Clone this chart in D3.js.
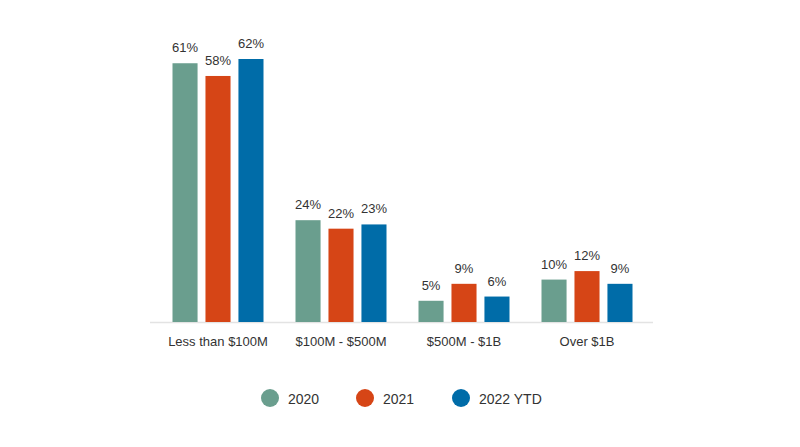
<!DOCTYPE html>
<html lang="en">
<head>
<meta charset="utf-8">
<title>Share by size</title>
<script src="https://d3js.org/d3.v7.min.js"></script>
<style>
  body { margin: 0; background: #fff; }
  svg { display: block; font-family: "Liberation Sans", Arial, sans-serif; }
</style>
</head>
<body>
<script>
// data
var categories = ["Less than $100M", "$100M - $500M", "$500M - $1B", "Over $1B"];
var seriesNames = ["2020", "2021", "2022 YTD"];
var values2020 = [61, 24, 5, 10];
var values2021 = [58, 22, 9, 12];
var values2022 = [62, 23, 6, 9];
var colors = ["#6a9e8e", "#d64516", "#006ca8"];

var w = 800, h = 447;
var baseY = 322;

var series = [values2020, values2021, values2022];

var svg = d3.select("body").append("svg")
  .attr("width", w)
  .attr("height", h);

var x0 = d3.scaleBand()
  .domain(categories)
  .range([156.5, 648.5])
  .paddingInner(0);

var x1 = d3.scaleBand()
  .domain(seriesNames)
  .range([16, 107])
  .paddingInner(0.24);

var y = d3.scaleLinear()
  .domain([0, 62])
  .range([baseY, baseY - 263]);

// baseline
svg.append("line")
  .attr("x1", 150).attr("x2", 653)
  .attr("y1", baseY + 0.5).attr("y2", baseY + 0.5)
  .attr("stroke", "#e3e3e3")
  .attr("stroke-width", 1.5);

var groups = svg.selectAll("g.grp")
  .data(categories)
  .enter().append("g")
  .attr("class", "grp")
  .attr("transform", function(d) { return "translate(" + x0(d) + ",0)"; });

groups.selectAll("rect")
  .data(function(d, i) {
    return seriesNames.map(function(s, j) { return {s: s, v: series[j][i], j: j}; });
  })
  .enter().append("rect")
  .attr("x", function(d) { return x1(d.s); })
  .attr("y", function(d) { return y(d.v); })
  .attr("width", x1.bandwidth())
  .attr("height", function(d) { return baseY - y(d.v); })
  .attr("fill", function(d) { return colors[d.j]; });

groups.selectAll("text")
  .data(function(d, i) {
    return seriesNames.map(function(s, j) { return {s: s, v: series[j][i]}; });
  })
  .enter().append("text")
  .attr("x", function(d) { return x1(d.s) + x1.bandwidth() / 2; })
  .attr("y", function(d) { return y(d.v) - 11; })
  .attr("text-anchor", "middle")
  .attr("font-size", "13px")
  .attr("fill", "#333")
  .text(function(d) { return d.v + "%"; });

// category labels
var xAxis = d3.axisBottom(x0).tickSize(0).tickPadding(15);
var ax = svg.append("g")
  .attr("transform", "translate(0," + baseY + ")")
  .call(xAxis);
ax.select(".domain").remove();
ax.selectAll("text")
  .attr("font-size", "13px")
  .attr("font-family", "Liberation Sans, Arial, sans-serif")
  .attr("fill", "#333");

// legend
var legendX = [270, 365, 461];
var legend = svg.selectAll("g.leg")
  .data(seriesNames)
  .enter().append("g")
  .attr("class", "leg")
  .attr("transform", function(d, i) { return "translate(" + legendX[i] + ",398)"; });

legend.append("circle")
  .attr("r", 9)
  .attr("fill", function(d, i) { return colors[i]; });

legend.append("text")
  .attr("x", 18)
  .attr("y", 5.5)
  .attr("font-size", "14px")
  .attr("fill", "#333")
  .text(function(d) { return d; });
</script>
</body>
</html>
